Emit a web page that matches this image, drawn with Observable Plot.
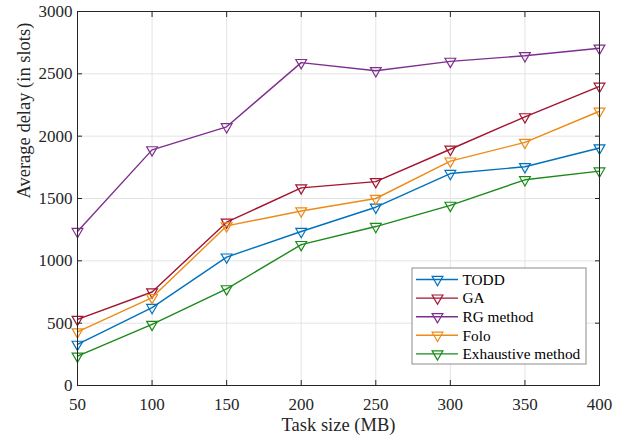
<!DOCTYPE html>
<html>
<head>
<meta charset="utf-8">
<script src="https://cdn.jsdelivr.net/npm/d3@7"></script>
<script src="https://cdn.jsdelivr.net/npm/@observablehq/plot@0.6"></script>
<style>
  html, body { margin: 0; padding: 0; background: #fff; }
  #chart { width: 622px; height: 439px; }
  #chart svg, #chart svg text { font-family: "Liberation Serif", "Times New Roman", serif !important; font-weight: normal !important; }
</style>
</head>
<body>
<div id="chart"></div>
<script>
const taskSizes = [50, 100, 150, 200, 250, 300, 350, 400];
const todd = [330, 625, 1030, 1235, 1430, 1700, 1755, 1905];
const ga = [530, 750, 1310, 1585, 1635, 1895, 2155, 2400];
const rgMethod = [1235, 1890, 2075, 2590, 2525, 2600, 2645, 2705];
const folo = [430, 705, 1280, 1400, 1500, 1800, 1950, 2200];
const exhaustive = [235, 490, 775, 1130, 1275, 1445, 1650, 1720];

const seriesNames = ["TODD", "GA", "RG method", "Folo", "Exhaustive method"];
const seriesValues = [todd, ga, rgMethod, folo, exhaustive];
const seriesColors = ["#0072BD", "#A2142F", "#7E2F8E", "#EC8B17", "#1B8A1B"];

const xTicks = [50, 100, 150, 200, 250, 300, 350, 400];
const yTicks = [0, 500, 1000, 1500, 2000, 2500, 3000];
const xLabel = "Task size (MB)";
const yLabel = "Average delay (in slots)";

const rows = [];
seriesNames.forEach((name, i) => {
  taskSizes.forEach((x, j) => rows.push({series: name, x, y: seriesValues[i][j]}));
});

const FONT = "Liberation Serif";
const AX = "#262626";
const GRID = "#e3e3e3";
const fmt = d => String(d);

const marks = [
  Plot.gridX(xTicks, {stroke: GRID, strokeOpacity: 1, strokeWidth: 1}),
  Plot.gridY(yTicks, {stroke: GRID, strokeOpacity: 1, strokeWidth: 1}),
];
seriesNames.forEach((name, i) => {
  const d = rows.filter(r => r.series === name);
  marks.push(Plot.line(d, {x: "x", y: "y", stroke: seriesColors[i], strokeWidth: 1.4}));
  marks.push(Plot.dot(d, {x: "x", y: "y", symbol: "triangle", rotate: 180, r: 4, stroke: seriesColors[i], fill: "none", strokeWidth: 1.2}));
});
marks.push(
  Plot.frame({stroke: AX, strokeWidth: 1}),
  Plot.axisX(xTicks, {anchor: "bottom", tickSize: 0, tickPadding: 12, tickFormat: fmt, label: null, fontSize: 17, fill: AX}),
  Plot.axisY(yTicks, {anchor: "left", tickSize: 0, tickPadding: 5, tickFormat: fmt, label: null, fontSize: 17, fill: AX}),
  Plot.axisX(xTicks, {anchor: "bottom", tickSize: -5, tickFormat: () => "", label: null, stroke: AX}),
  Plot.axisX(xTicks, {anchor: "top", tickSize: -5, tickFormat: () => "", label: null, stroke: AX}),
  Plot.axisY(yTicks, {anchor: "left", tickSize: -5, tickFormat: () => "", label: null, stroke: AX}),
  Plot.axisY(yTicks, {anchor: "right", tickSize: -5, tickFormat: () => "", label: null, stroke: AX}),
  Plot.text([xLabel], {frameAnchor: "bottom", dy: 45, fontSize: 18.5, fill: AX}),
  Plot.text([yLabel], {frameAnchor: "left", dx: -53, rotate: -90, fontSize: 18.5, fill: AX})
);

const chart = Plot.plot({
  width: 622,
  height: 439,
  marginLeft: 77,
  marginRight: 23,
  marginTop: 11,
  marginBottom: 54,
  style: {fontSize: "17px", color: AX, background: "#fff"},
  x: {domain: [50, 400]},
  y: {domain: [0, 3000]},
  marks
});

// Legend (inside plot area, lower right)
const svg = d3.select(chart);
const lg = svg.append("g").attr("transform", "translate(412,268)");
lg.append("rect").attr("x", 0).attr("y", 0).attr("width", 174).attr("height", 96)
  .attr("fill", "#fff").attr("stroke", "#8c8c8c").attr("stroke-width", 1);
seriesNames.forEach((name, i) => {
  const cy = 11.5 + i * 18.6;
  const g = lg.append("g").attr("transform", `translate(0,${cy})`);
  g.append("line").attr("x1", 4).attr("x2", 46).attr("y1", 0).attr("y2", 0)
    .attr("stroke", seriesColors[i]).attr("stroke-width", 1.4);
  g.append("path").attr("d", d3.symbol(d3.symbolTriangle, Math.PI * 16)())
    .attr("transform", "translate(25.5,0) rotate(180)")
    .attr("fill", "none").attr("stroke", seriesColors[i]).attr("stroke-width", 1.2);
  g.append("text").attr("x", 50.5).attr("y", 0).attr("dy", "0.35em")
    .attr("text-anchor", "start")
    .attr("font-size", 15.3).attr("fill", "#000")
    .text(name);
});

svg.attr("font-family", FONT);
svg.selectAll("g").attr("font-family", null);
svg.selectAll("text").attr("font-family", FONT).style("font-family", "'Liberation Serif'");

document.getElementById("chart").appendChild(chart);
</script>
</body>
</html>
